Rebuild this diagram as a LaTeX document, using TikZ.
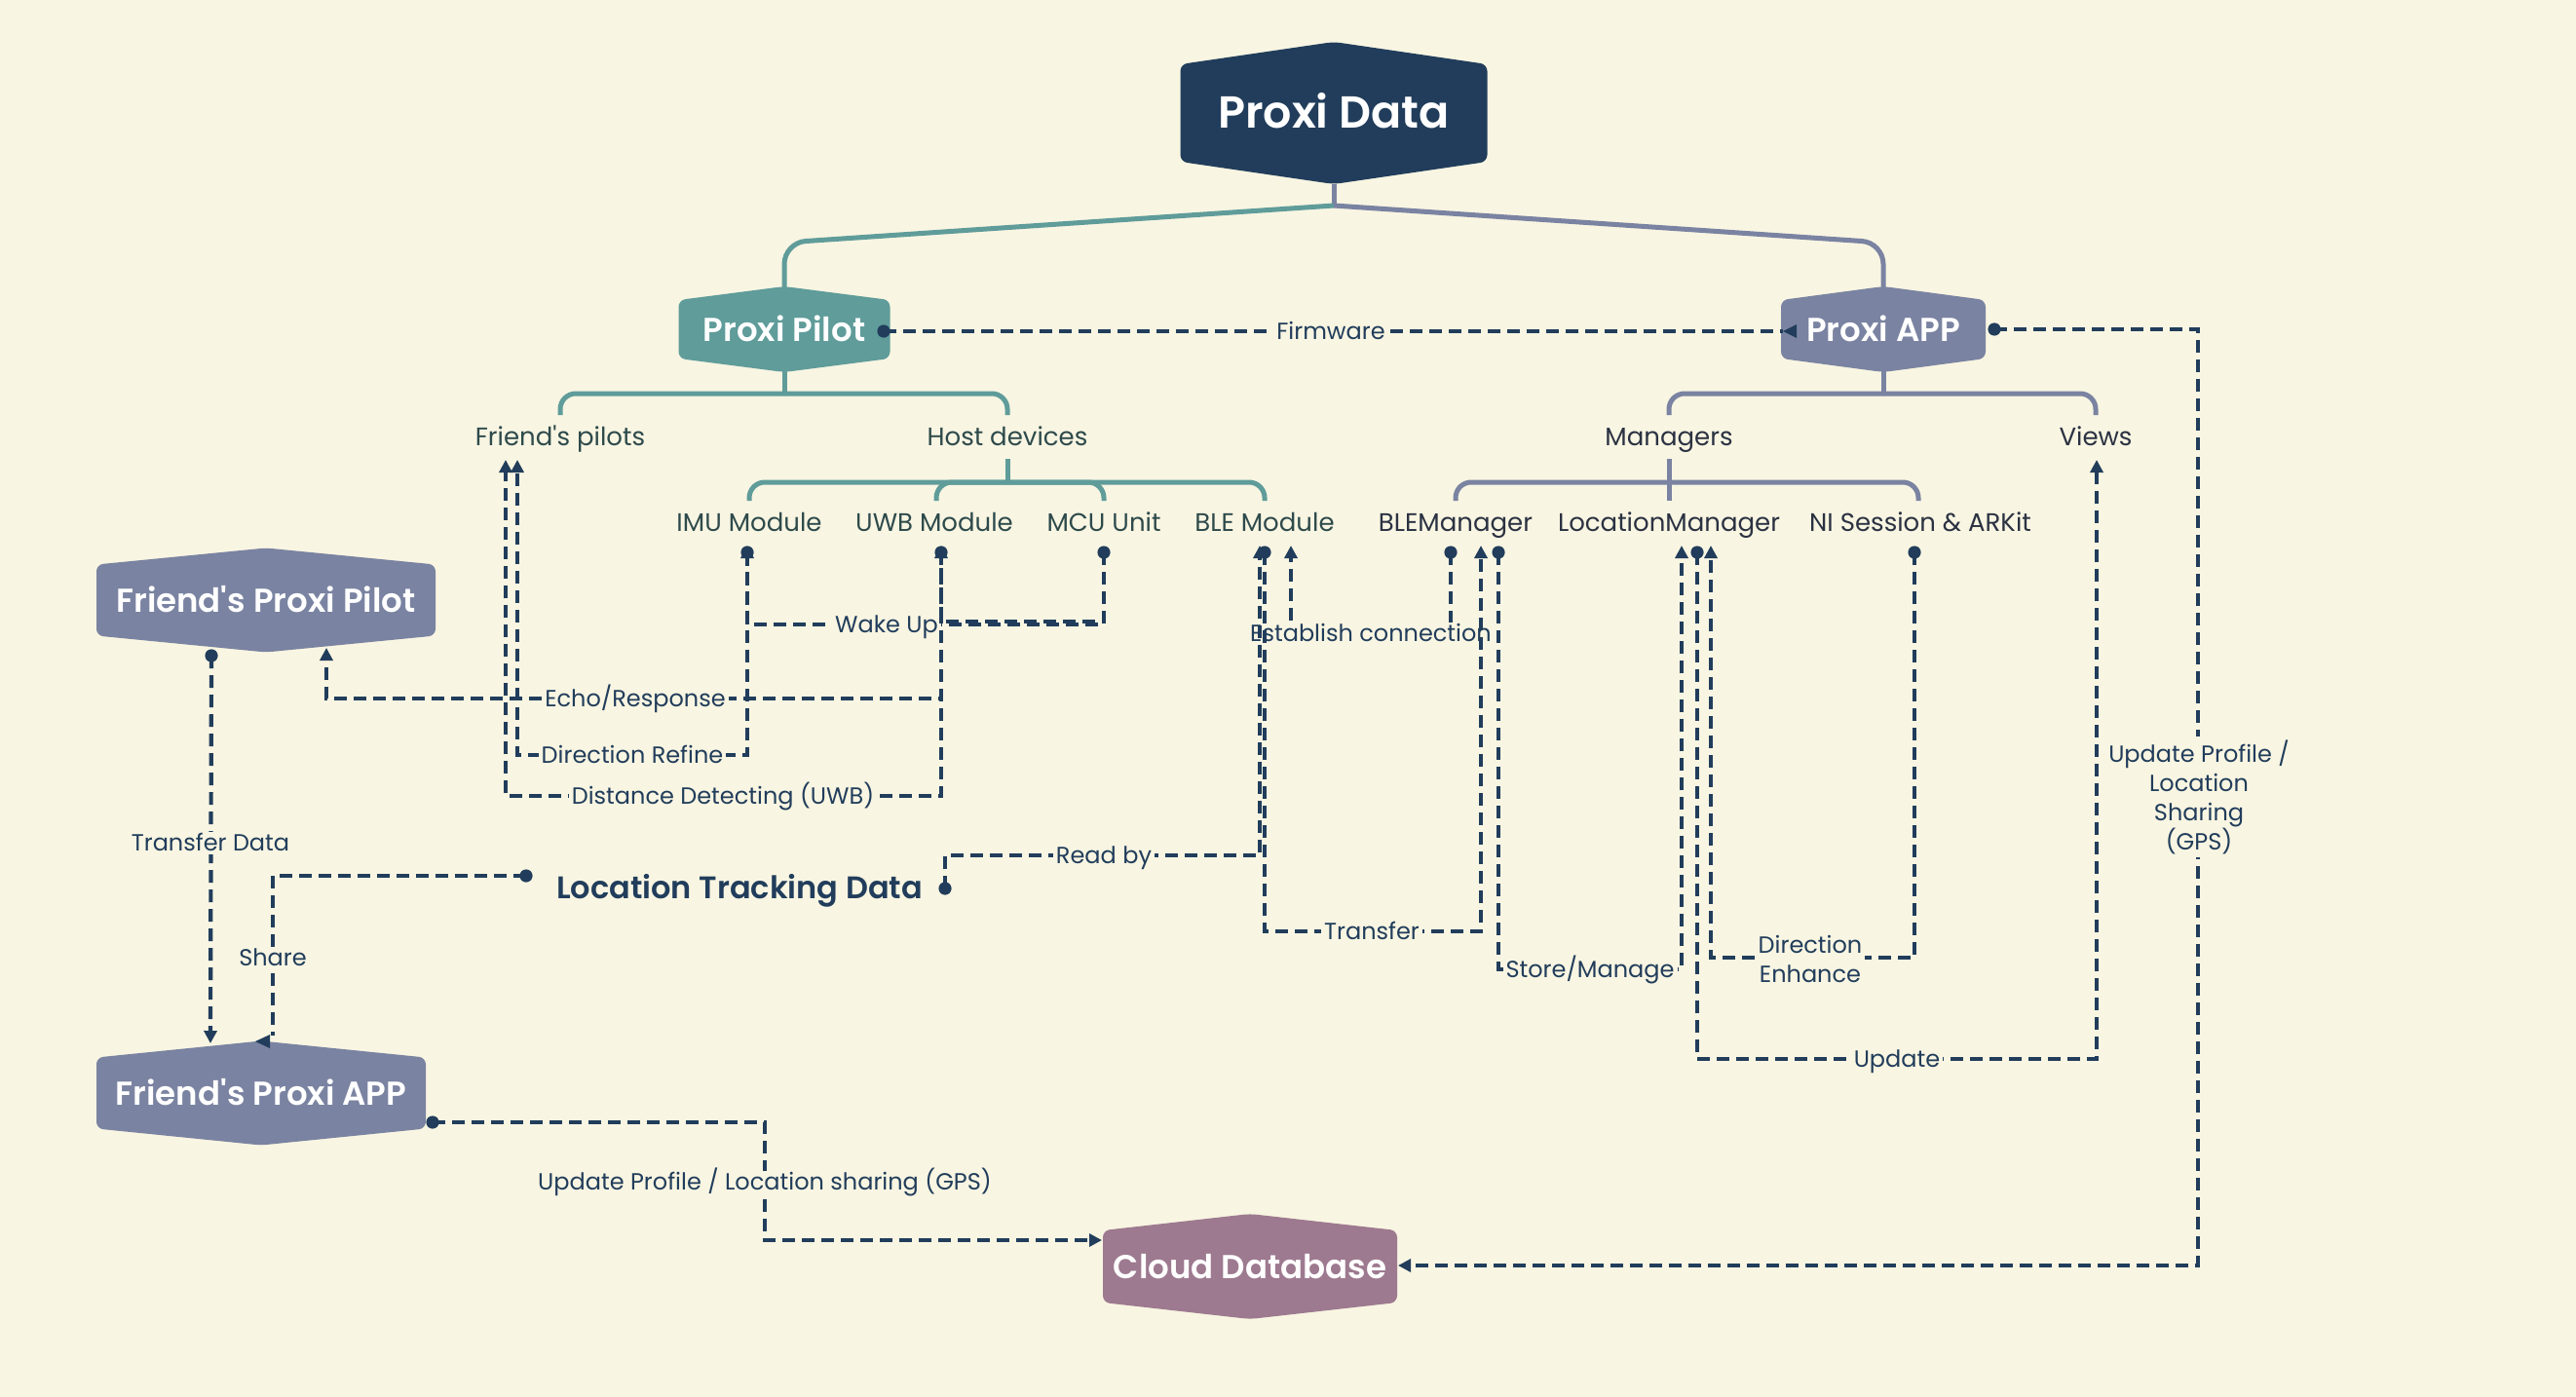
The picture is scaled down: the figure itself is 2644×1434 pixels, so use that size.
\documentclass[tikz,border=0pt]{standalone}
\usepackage{fontspec}
\setmainfont{Poppins}[BoldFont={* SemiBold}]
\usetikzlibrary{arrows.meta}
\definecolor{bg}{HTML}{F8F5E2}
\definecolor{navy}{HTML}{213D5B}
\definecolor{tealc}{HTML}{5F9C9A}
\definecolor{slate}{HTML}{7A83A1}
\definecolor{mauve}{HTML}{9D7A8F}
\definecolor{treeA}{HTML}{2E4A4B}
\definecolor{treeB}{HTML}{2B3242}
\newcommand\hexshape[6]{%
  \fill[#6, rounded corners=3.5pt] ({#1-#3},{#2-#4}) -- (#1,{#2-#4-#5}) -- ({#1+#3},{#2-#4})
    -- ({#1+#3},{#2+#4}) -- (#1,{#2+#4+#5}) -- ({#1-#3},{#2+#4}) -- cycle;}
\begin{document}
\begin{tikzpicture}[x=0.5pt,y=-0.5pt,
  title/.style={text=white, font=\bfseries\fontsize{17}{20}\selectfont, text height=12pt, text depth=0pt, inner sep=0pt},
  bigtitle/.style={text=white, font=\bfseries\fontsize{23}{27}\selectfont, text height=16pt, text depth=0pt, inner sep=0pt},
  tlabA/.style={text=treeA, font=\fontsize{13}{16}\selectfont, anchor=base, inner sep=0pt},
  tlabB/.style={text=treeB, font=\fontsize{13}{16}\selectfont, anchor=base, inner sep=0pt},
  rellab/.style={text=navy, font=\fontsize{12}{15}\selectfont, fill=bg, inner sep=1.5pt, text height=8.5pt, text depth=0pt},
  rellabm/.style={text=navy, font=\fontsize{12}{15}\selectfont, fill=bg, inner sep=1.5pt, align=center},
  tl/.style={line width=2.5pt},
  rel/.style={navy, line width=2.1pt, dash pattern=on 6.5pt off 3.5pt},
  arr/.style={-{Triangle[length=6.5pt,width=6.5pt]}},
  dot/.style={navy}
]
\useasboundingbox (0,0) rectangle (2644,1434);
\fill[bg] (0,0) rectangle (2644,1434);

% ---------- hexagon nodes ----------
\hexshape{1369}{116}{157.5}{50}{23}{navy}
\node[bigtitle] (data) at (1369,116) {Proxi Data};
\hexshape{805}{338}{108.5}{30}{14}{tealc}
\node[title] (pilot) at (805,338) {Proxi Pilot};
\hexshape{1933}{338}{105}{30}{14}{slate}
\node[title] (app) at (1933,338) {Proxi APP};
\hexshape{273}{616}{174}{36.5}{17}{slate}
\node[title] (fpp) at (273,616) {Friend\textquotesingle s Proxi Pilot};
\hexshape{268}{1122}{169}{36.5}{17}{slate}
\node[title] (fpa) at (268,1122) {Friend\textquotesingle s Proxi APP};
\hexshape{1283}{1300}{151}{37}{17}{mauve}
\node[title] (cloud) at (1283,1300) {Cloud Database};

% ---------- tree labels ----------
\node[tlabA] (fpil) at (575,457) {Friend\textquotesingle s pilots};
\node[tlabA] (host) at (1034,457) {Host devices};
\node[tlabB] (mgr) at (1713,457) {Managers};
\node[tlabB] (views) at (2151,457) {Views};
\node[tlabA] (imu) at (769,545) {IMU Module};
\node[tlabA] (uwb) at (959,545) {UWB Module};
\node[tlabA] (mcu) at (1133,545) {MCU Unit};
\node[tlabA] (ble) at (1298,545) {BLE Module};
\node[tlabB] (blem) at (1494,545) {BLEManager};
\node[tlabB] (locm) at (1713,545) {LocationManager};
\node[tlabB] (ni) at (1971,545) {NI Session \& ARKit};
\node[text=navy, font=\bfseries\fontsize{16}{19}\selectfont, text height=11.2pt, text depth=0pt, inner sep=0pt] (ltd) at (759,911) {Location Tracking Data};

% ---------- tree coordinates ----------
\coordinate (dataB) at (1369,189);
\coordinate (pilotT) at (805,296);
\coordinate (pilotB) at (805,381);
\coordinate (appT) at (1933,296);
\coordinate (appB) at (1933,381);
\coordinate (fpilT) at (575,426);
\coordinate (hostT) at (1034,426);
\coordinate (hostB) at (1034,471);
\coordinate (mgrT) at (1713,426);
\coordinate (mgrB) at (1713,471);
\coordinate (viewsT) at (2151,426);
\coordinate (imuT) at (769,514);
\coordinate (uwbT) at (961,514);
\coordinate (mcuT) at (1133,514);
\coordinate (bleT) at (1298,514);
\coordinate (blemT) at (1494,514);
\coordinate (locmT) at (1713,514);
\coordinate (niT) at (1969,514);

% ---------- tree lines ----------
\draw[slate,tl] (dataB) -- (1369,212);
\draw[tealc,tl,rounded corners=11pt] (1369,211) -- (805,249) -- (pilotT);
\draw[slate,tl,rounded corners=11pt] (1369,211) -- (1933,249) -- (appT);

\draw[tealc,tl] (pilotB) -- (805,405);
\draw[tealc,tl,rounded corners=8pt] (805,404) -| (fpilT);
\draw[tealc,tl,rounded corners=8pt] (805,404) -| (hostT);
\draw[tealc,tl] (hostB) -- (1034,496);
\draw[tealc,tl,rounded corners=8pt] (1034,495) -| (imuT);
\draw[tealc,tl,rounded corners=8pt] (1034,495) -| (uwbT);
\draw[tealc,tl,rounded corners=8pt] (1034,495) -| (mcuT);
\draw[tealc,tl,rounded corners=8pt] (1034,495) -| (bleT);

\draw[slate,tl] (appB) -- (1933,405);
\draw[slate,tl,rounded corners=8pt] (1933,404) -| (mgrT);
\draw[slate,tl,rounded corners=8pt] (1933,404) -| (viewsT);
\draw[slate,tl] (mgrB) -- (locmT);
\draw[slate,tl,rounded corners=8pt] (1713,495) -| (blemT);
\draw[slate,tl,rounded corners=8pt] (1713,495) -| (niT);

% ---------- relationship end points ----------
\coordinate (pilotD) at (907,340);
\coordinate (appA) at (1830,340);
\coordinate (appD) at (2047,338);
\coordinate (imuD) at (767,567);
\coordinate (imuA) at (767,560);
\coordinate (uwbD) at (966,567);
\coordinate (uwbA) at (966,560);
\coordinate (mcuD) at (1133,567);
\coordinate (bleD) at (1298,567);
\coordinate (bleA1) at (1293,560);
\coordinate (bleA2) at (1325,560);
\coordinate (blemD1) at (1489,567);
\coordinate (blemA) at (1520,560);
\coordinate (blemD2) at (1538,567);
\coordinate (locA1) at (1726,560);
\coordinate (locD) at (1742,567);
\coordinate (locA2) at (1756,560);
\coordinate (niD) at (1965,567);
\coordinate (viewsA) at (2152,472);
\coordinate (fpilA1) at (519,472);
\coordinate (fpilA2) at (531,472);
\coordinate (fppD) at (217,673);
\coordinate (fppA) at (335,665);
\coordinate (fpaA) at (216,1071);
\coordinate (fpaS) at (280,1063);
\coordinate (fpaSt) at (262,1069);
\coordinate (fpaD) at (444,1152);
\coordinate (ltdL) at (540,899);
\coordinate (ltdR) at (970,912);
\coordinate (cloudL) at (1131,1273);
\coordinate (cloudR) at (1435,1299);

% ---------- relationships ----------
\draw[rel] (pilotD) -- (appA);
\fill[navy] (appA) -- ++(14,-7) -- ++(0,14) -- cycle;
\node[rellab] (lfirm) at (1366,340) {Firmware};

\draw[rel,arr] (mcuD) -- (1133,641) -| (imuA);
\node[rellab] (lwake) at (910,641) {Wake Up};
\draw[rel,arr] (mcuD) -- (1133,638) -| (uwbA);

\draw[rel,arr] (uwbD) -- (966,717) -| (fppA);
\node[rellab] (lecho) at (652,717) {Echo/Response};

\draw[rel,arr] (imuD) -- (767,775) -| (fpilA2);
\node[rellab] (ldir) at (649,775) {Direction Refine};

\draw[rel,arr] (uwbD) -- (966,817) -| (fpilA1);
\node[rellab] (ldist) at (742,817) {Distance Detecting (UWB)};

\draw[rel,arr] (blemD1) -- (1489,650) -| (bleA2);
\node[rellab] (lest) at (1407,650) {Establish connection};

\draw[rel,arr] (ltdR) -- (970,878) -| (bleA1);
\node[rellab] (lread) at (1133,878) {Read by};

\draw[rel,arr] (bleD) -- (1298,956) -| (blemA);
\node[rellab] (ltrans) at (1408,956) {Transfer};

\draw[rel,arr] (blemD2) -- (1538,995) -| (locA1);
\node[rellab] (lstore) at (1632,995) {Store/Manage};

\draw[rel,arr] (niD) -- (1965,983) -| (locA2);
\node[rellabm] (lenh) at (1858,984) {Direction\\Enhance};

\draw[rel,arr] (locD) -- (1742,1087) -| (viewsA);
\node[rellab] (lupd) at (1947,1087) {Update};

\draw[rel,arr] (appD) -| (2256,1299) -- (cloudR);
\node[rellabm] (lprof) at (2257,818) {Update Profile /\\Location\\Sharing\\(GPS)};

\draw[rel,arr] (fppD) -- (fpaA);
\node[rellab] (ltd2) at (216,865) {Transfer Data};

\draw[rel] (ltdL) -| (fpaS);
\fill[navy] (fpaSt) -- ++(15,-7) -- ++(0,14) -- cycle;
\node[rellab] (lshare) at (280,983) {Share};

\draw[rel,arr] (fpaD) -| (785,1273) -- (cloudL);
\node[rellab] (lprof2) at (785,1213) {Update Profile / Location sharing (GPS)};

% ---------- dots ----------
\foreach \p in {pilotD,appD,imuD,uwbD,mcuD,bleD,blemD1,blemD2,locD,niD,ltdL,ltdR,fppD,fpaD}
  \fill[dot] (\p) circle (3.3pt);
\end{tikzpicture}
\end{document}
